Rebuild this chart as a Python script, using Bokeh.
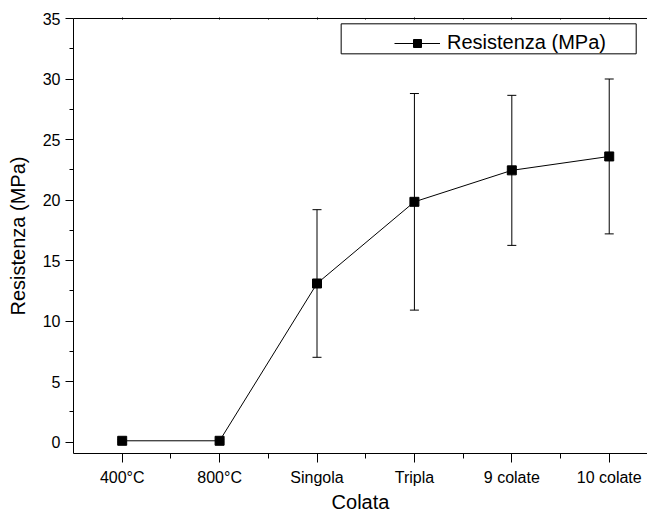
from bokeh.plotting import figure
from bokeh.models import (ColumnDataSource, Range1d, FixedTicker, LinearAxis, Whisker,
                          TeeHead, Legend, LegendItem, BoxAnnotation)
from bokeh.embed import file_html
from bokeh.resources import INLINE

# ---- data ----
categories = ["400°C", "800°C", "Singola", "Tripla", "9 colate", "10 colate"]
positions = [1, 2, 3, 4, 5, 6]
resistenza = [0.1, 0.1, 13.1, 19.85, 22.45, 23.6]
errore = [0.1, 0.1, 6.1, 8.95, 6.2, 6.4]
y_ticks = [0, 5, 10, 15, 20, 25, 30, 35]

upper = [m + e for m, e in zip(resistenza, errore)]
lower = [m - e for m, e in zip(resistenza, errore)]
src = ColumnDataSource(dict(x=positions, y=resistenza, upper=upper, lower=lower))

FONT = "Liberation Sans"

p = figure(width=647, height=515, output_backend="svg", toolbar_location=None,
           x_range=Range1d(0.5, 6.393), y_range=Range1d(-0.95, 35),
           min_border_left=73, min_border_right=0, min_border_top=18, min_border_bottom=62,
           background_fill_color="white", border_fill_color="white")
p.title = None
p.outline_line_color = None
p.xgrid.visible = False
p.ygrid.visible = False

x_ticker = FixedTicker(ticks=positions, minor_ticks=[v + 0.5 for v in positions])
y_ticker = FixedTicker(ticks=y_ticks, minor_ticks=[v + 2.5 for v in y_ticks])

xa = p.xaxis[0]
xa.ticker = x_ticker
xa.major_label_overrides = {pos: cat for pos, cat in zip(positions, categories)}
xa.axis_label = "Colata"
ya = p.yaxis[0]
ya.ticker = y_ticker
ya.axis_label = "Resistenza (MPa)"

for ax in (xa, ya):
    ax.axis_line_color = "black"
    ax.axis_line_width = 1
    ax.major_tick_line_color = "black"
    ax.minor_tick_line_color = "black"
    ax.major_tick_in = 0
    ax.minor_tick_in = 0
    ax.major_label_text_font = FONT
    ax.major_label_text_font_size = "16px"
    ax.major_label_text_color = "black"
    ax.axis_label_text_font = FONT
    ax.axis_label_text_font_size = "20px"
    ax.axis_label_text_font_style = "normal"
    ax.axis_label_text_color = "black"

xa.major_tick_out = 9
xa.minor_tick_out = 5
xa.major_label_standoff = 6
xa.axis_label_standoff = 2
ya.major_tick_out = 8
ya.minor_tick_out = 4
ya.major_label_standoff = 5
ya.axis_label_standoff = 11

top = LinearAxis(ticker=x_ticker, axis_line_color="black", axis_line_width=1,
                 major_tick_in=1, major_tick_out=1, minor_tick_in=1, minor_tick_out=0,
                 major_tick_line_color="black", minor_tick_line_color="black",
                 major_label_text_font_size="0px", major_label_standoff=0)
top.major_label_overrides = {pos: "" for pos in positions}
p.add_layout(top, "above")

wh = Whisker(base="x", upper="upper", lower="lower", source=src,
             line_color="black", line_width=1,
             upper_head=TeeHead(size=9, line_color="black", line_width=1),
             lower_head=TeeHead(size=9, line_color="black", line_width=1))
p.add_layout(wh)

line_r = p.line("x", "y", source=src, line_color="black", line_width=1)
sc_r = p.scatter("x", "y", source=src, marker="square", size=9,
                 fill_color="black", line_color="black")

box = BoxAnnotation(left=3.248, right=6.277, top=34.56, bottom=32.08,
                    fill_alpha=0, line_color="black", line_alpha=1, line_width=1)
p.add_layout(box)

legend = Legend(items=[LegendItem(label="Resistenza (MPa)", renderers=[line_r, sc_r])],
                location=(321, 399), glyph_width=46, glyph_height=20, label_standoff=7,
                padding=3, margin=0, spacing=0, border_line_color=None,
                background_fill_alpha=0, label_text_font=FONT,
                label_text_font_size="20px", label_text_color="black")
p.add_layout(legend)

open("out.html", "w").write(file_html(p, INLINE))
